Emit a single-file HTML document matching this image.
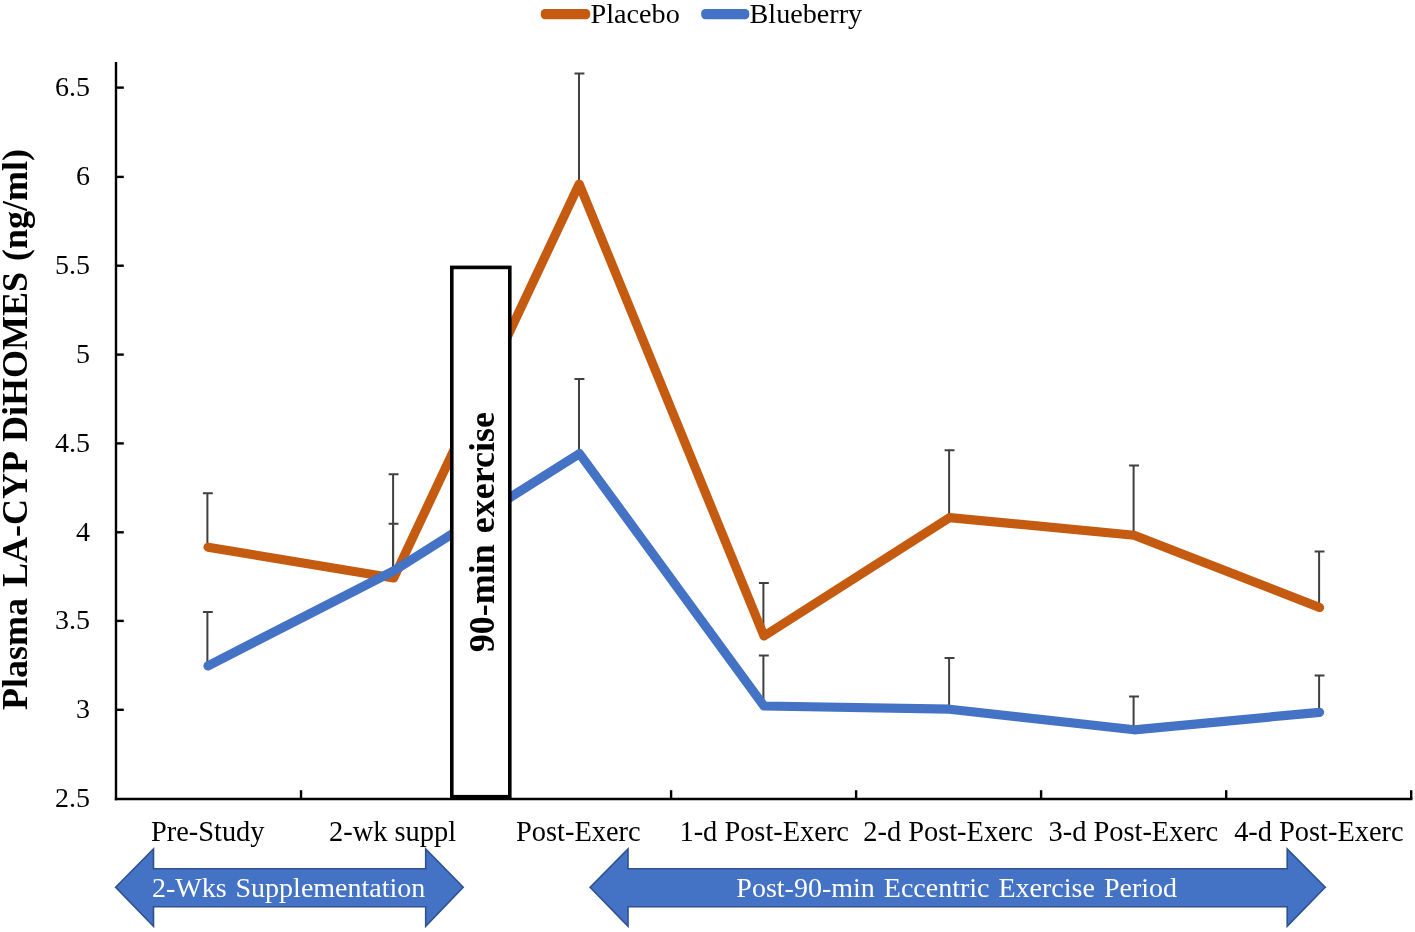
<!DOCTYPE html>
<html>
<head>
<meta charset="utf-8">
<title>Plasma LA-CYP DiHOMES</title>
<style>
  html, body { margin: 0; padding: 0; background: #ffffff; }
  body { width: 1415px; height: 932px; overflow: hidden; font-family: "Liberation Serif", serif; }
  svg { display: block; will-change: transform; opacity: 0.9999; }
  text { font-family: "Liberation Serif", serif; }
</style>
</head>
<body>
<svg width="1415" height="932" viewBox="0 0 1415 932">
  <rect x="0" y="0" width="1415" height="932" fill="#ffffff"/>

  <!-- Legend -->
  <g id="legend">
    <rect x="540.8" y="9" width="49.4" height="10.2" rx="4.2" ry="4.2" fill="#C55A11"/>
    <rect x="701.2" y="9" width="48.1" height="10.2" rx="4.2" ry="4.2" fill="#4472C4"/>
  </g>
  <g font-size="28.2" fill="#000000">
    <text x="590.5" y="22.8">Placebo</text>
    <text x="749.5" y="22.8">Blueberry</text>
  </g>

  <!-- Axes -->
  <g stroke="#000000" stroke-width="2.4" fill="none">
    <line x1="116" y1="62" x2="116" y2="800.2"/>
    <line x1="114.8" y1="799" x2="1412.4" y2="799"/>
    <!-- y ticks -->
    <g id="yticks">
      <line x1="116" y1="87.6" x2="123.8" y2="87.6"/>
      <line x1="116" y1="176.9" x2="123.8" y2="176.9"/>
      <line x1="116" y1="265.7" x2="123.8" y2="265.7"/>
      <line x1="116" y1="354.6" x2="123.8" y2="354.6"/>
      <line x1="116" y1="443.4" x2="123.8" y2="443.4"/>
      <line x1="116" y1="532.3" x2="123.8" y2="532.3"/>
      <line x1="116" y1="620.9" x2="123.8" y2="620.9"/>
      <line x1="116" y1="709.8" x2="123.8" y2="709.8"/>
    </g>
    <!-- x ticks -->
    <g id="xticks">
      <line x1="301.03" y1="790.2" x2="301.03" y2="799"/>
      <line x1="486.06" y1="790.2" x2="486.06" y2="799"/>
      <line x1="671.09" y1="790.2" x2="671.09" y2="799"/>
      <line x1="856.1" y1="790.2" x2="856.1" y2="799"/>
      <line x1="1041.1" y1="790.2" x2="1041.1" y2="799"/>
      <line x1="1226.2" y1="790.2" x2="1226.2" y2="799"/>
      <line x1="1411.2" y1="790.2" x2="1411.2" y2="799"/>
    </g>
  </g>

  <!-- Y tick labels -->
  <g id="ylabels" font-size="28" fill="#000000" text-anchor="end">
    <text x="90" y="96.0">6.5</text>
    <text x="90" y="185.3">6</text>
    <text x="90" y="274.1">5.5</text>
    <text x="90" y="363.0">5</text>
    <text x="90" y="451.8">4.5</text>
    <text x="90" y="540.7">4</text>
    <text x="90" y="629.3">3.5</text>
    <text x="90" y="718.2">3</text>
    <text x="90" y="807.0">2.5</text>
  </g>

  <!-- Y axis title -->
  <text transform="translate(26.9,429.5) rotate(-90)" word-spacing="2" font-size="36" font-weight="bold" text-anchor="middle" fill="#000000">Plasma LA-CYP DiHOMES (ng/ml)</text>

  <!-- X labels -->
  <g font-size="28.4" fill="#000000" text-anchor="middle">
    <text x="207.7" y="841">Pre-Study</text>
    <text x="392.6" y="841">2-wk suppl</text>
    <text x="578.3" y="841">Post-Exerc</text>
    <text x="764.2" y="841">1-d Post-Exerc</text>
    <text x="948" y="841">2-d Post-Exerc</text>
    <text x="1133.3" y="841">3-d Post-Exerc</text>
    <text x="1318.9" y="841">4-d Post-Exerc</text>
  </g>

  <!-- Error bars -->
  <g id="errbars" stroke="#404040" stroke-width="2" fill="none">
    <path d="M207.4 547.2 V493.2 M202.9 493.2 H212.8"/>
    <path d="M393.1 578.0 V474.3 M388.6 474.3 H398.5"/>
    <path d="M579.0 184.2 V73.5 M574.5 73.5 H584.4"/>
    <path d="M763.4 636.0 V583.0 M758.9 583.0 H768.8"/>
    <path d="M949.1 517.6 V450.2 M944.6 450.2 H954.5"/>
    <path d="M1133.6 535.2 V465.4 M1129.1 465.4 H1139.0"/>
    <path d="M1319.1 607.5 V551.4 M1314.6 551.4 H1324.5"/>
    <path d="M207.4 665.8 V611.9 M202.9 611.9 H212.8"/>
    <path d="M393.1 570.8 V523.7 M388.6 523.7 H398.5"/>
    <path d="M579.0 453.6 V379.1 M574.5 379.1 H584.4"/>
    <path d="M763.4 706.0 V655.4 M758.9 655.4 H768.8"/>
    <path d="M949.1 709.2 V658.0 M944.6 658.0 H954.5"/>
    <path d="M1133.6 729.8 V696.6 M1129.1 696.6 H1139.0"/>
    <path d="M1319.1 712.3 V675.5 M1314.6 675.5 H1324.5"/>
  </g>

  <!-- Series lines -->
  <g id="series" fill="none" stroke-linecap="round" stroke-linejoin="round">
    <polyline stroke="#C55A11" stroke-width="9.1" points="208.0,547.2 393.7,578.0 579.2,184.0 764.0,636.0 949.6,517.6 1134.1,535.2 1319.6,607.5"/>
    <polyline stroke="#4472C4" stroke-width="9.2" points="208.0,665.8 393.7,570.8 579.5,453.6 764.0,706.0 949.6,709.2 1134.1,729.8 1319.6,712.3"/>
  </g>

  <!-- 90-min exercise box -->
  <rect x="451.8" y="267.4" width="58" height="529.3" fill="#ffffff" stroke="#000000" stroke-width="3.6"/>
  <text transform="translate(494,532.1) rotate(-90)" word-spacing="2" font-size="36" font-weight="bold" text-anchor="middle" fill="#000000">90-min exercise</text>

  <!-- Arrows -->
  <g id="arrows" fill="#4472C4" stroke="#2F528F" stroke-width="1.6" stroke-linejoin="miter">
    <polygon points="115.6,887.3 153.5,849.0 153.5,868.7 425.7,868.7 425.7,849.0 463.2,887.3 425.7,926.2 425.7,906.8 153.5,906.8 153.5,926.2"/>
    <polygon points="590.1,887.3 628.0,849.0 628.0,868.7 1287.2,868.7 1287.2,849.0 1325.2,887.3 1287.2,926.2 1287.2,906.8 628.0,906.8 628.0,926.2"/>
  </g>
  <g font-size="28" word-spacing="2" fill="#ffffff" text-anchor="middle">
    <text x="288.6" y="897.3">2-Wks Supplementation</text>
    <text x="956.7" y="897.3">Post-90-min Eccentric Exercise Period</text>
  </g>
</svg>
</body>
</html>
